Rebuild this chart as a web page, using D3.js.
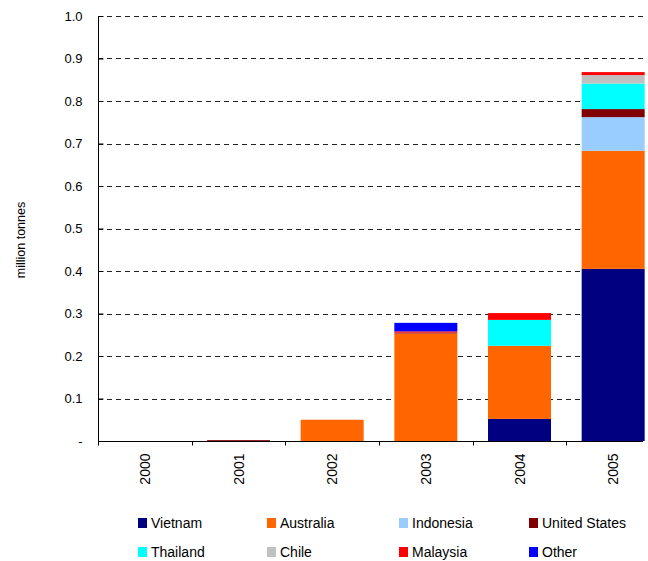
<!DOCTYPE html>
<html><head><meta charset="utf-8">
<script src="https://cdn.jsdelivr.net/npm/d3@7"></script>
<style>body{margin:0;background:#fff;} text{font-family:"Liberation Sans",Arial,sans-serif;}</style>
</head><body>
<svg id="c" width="648" height="561"></svg>
<script>
const years = ["2000","2001","2002","2003","2004","2005"];
const seriesNames = ["Vietnam","Australia","Indonesia","United States","Thailand","Chile","Malaysia","Other"];
const colors = ["#000080","#FF6600","#99CCFF","#800000","#00FFFF","#C0C0C0","#FF0000","#0000FF"];
const Vietnam      = [0, 0,     0,    0,     0.052, 0.405];
const Australia    = [0, 0,     0.05, 0.253, 0.172, 0.278];
const Indonesia    = [0, 0,     0,    0,     0,     0.079];
const UnitedStates = [0, 0.002, 0,    0.002, 0,     0.019];
const Thailand     = [0, 0,     0,    0,     0.061, 0.060];
const Chile        = [0, 0,     0,    0,     0,     0.020];
const Malaysia     = [0, 0,     0,    0.003, 0.016, 0.007];
const Other        = [0, 0,     0,    0.020, 0,     0];
const yTicks = [0,0.1,0.2,0.3,0.4,0.5,0.6,0.7,0.8,0.9,1.0];

const seriesVals = [Vietnam,Australia,Indonesia,UnitedStates,Thailand,Chile,Malaysia,Other];
const rows = years.map((y,i)=>{const o={year:y}; seriesNames.forEach((s,j)=>o[s]=seriesVals[j][i]); return o;});
const stack = d3.stack().keys(seriesNames)(rows);

const L=98, R=643, T=16, B=441, XR=660;
const svg = d3.select("#c");
const xb = d3.scaleBand().domain(years).range([L,XR]);
const barW = 63;
const y = d3.scaleLinear().domain([0,1]).range([B,T]);

// gridlines
svg.append("g").selectAll("line").data(yTicks.filter(d=>d>0)).join("line")
  .attr("x1",L).attr("x2",R).attr("y1",d=>Math.round(y(d))+0.5).attr("y2",d=>Math.round(y(d))+0.5)
  .attr("stroke","#222").attr("stroke-width",1).attr("stroke-dasharray","5,4");

// bars
svg.append("g").selectAll("g").data(stack).join("g")
  .attr("fill",(d,i)=>colors[i])
  .selectAll("rect").data(d=>d).join("rect")
  .attr("x",d=>xb(d.data.year)+xb.bandwidth()/2-barW/2).attr("width",barW)
  .attr("y",d=>y(d[1])).attr("height",d=>Math.max(0,y(d[0])-y(d[1])));

// y axis
const yAxis = d3.axisLeft(y).tickValues(yTicks).tickSize(-5).tickPadding(16)
  .tickFormat(d=>d===0?"-":d3.format(".1f")(d));
const gy = svg.append("g").attr("transform",`translate(${L+0.5},0)`).call(yAxis);
gy.select(".domain").attr("stroke","#000").attr("d",`M0,${B+0.5}V${T}`);
gy.selectAll(".tick line").attr("stroke","#000");
gy.selectAll("text").attr("font-size",13).attr("fill","#000").attr("font-family","Liberation Sans, Arial, sans-serif");

// x axis
const gx = svg.append("g").attr("transform",`translate(0,${B+0.5})`);
gx.append("line").attr("x1",L).attr("x2",R).attr("stroke","#000");
const bounds = years.map(d=>xb(d));
gx.selectAll("line.t").data(bounds).join("line").attr("class","t")
  .attr("x1",d=>Math.round(d)+0.5).attr("x2",d=>Math.round(d)+0.5).attr("y1",0).attr("y2",4).attr("stroke","#000");
gx.selectAll("text").data(years).join("text")
  .attr("transform",d=>`translate(${xb(d)+xb.bandwidth()/2+5},12) rotate(-90)`)
  .attr("text-anchor","end").attr("font-size",14).attr("fill","#000").text(d=>d);

// y label
svg.append("text").attr("transform","translate(25,240) rotate(-90)")
  .attr("text-anchor","middle").attr("font-size",12.5).text("million tonnes");

// legend
const legX = [138,267,399,529];
const legY = [518,547];
const lg = svg.append("g").selectAll("g").data(seriesNames).join("g")
  .attr("transform",(d,i)=>`translate(${legX[i%4]},${legY[Math.floor(i/4)]})`);
lg.append("rect").attr("width",9).attr("height",10).attr("fill",(d,i)=>colors[i]);
lg.append("text").attr("x",13).attr("y",10).attr("font-size",14).attr("fill","#000").text(d=>d);
</script>
</body></html>
